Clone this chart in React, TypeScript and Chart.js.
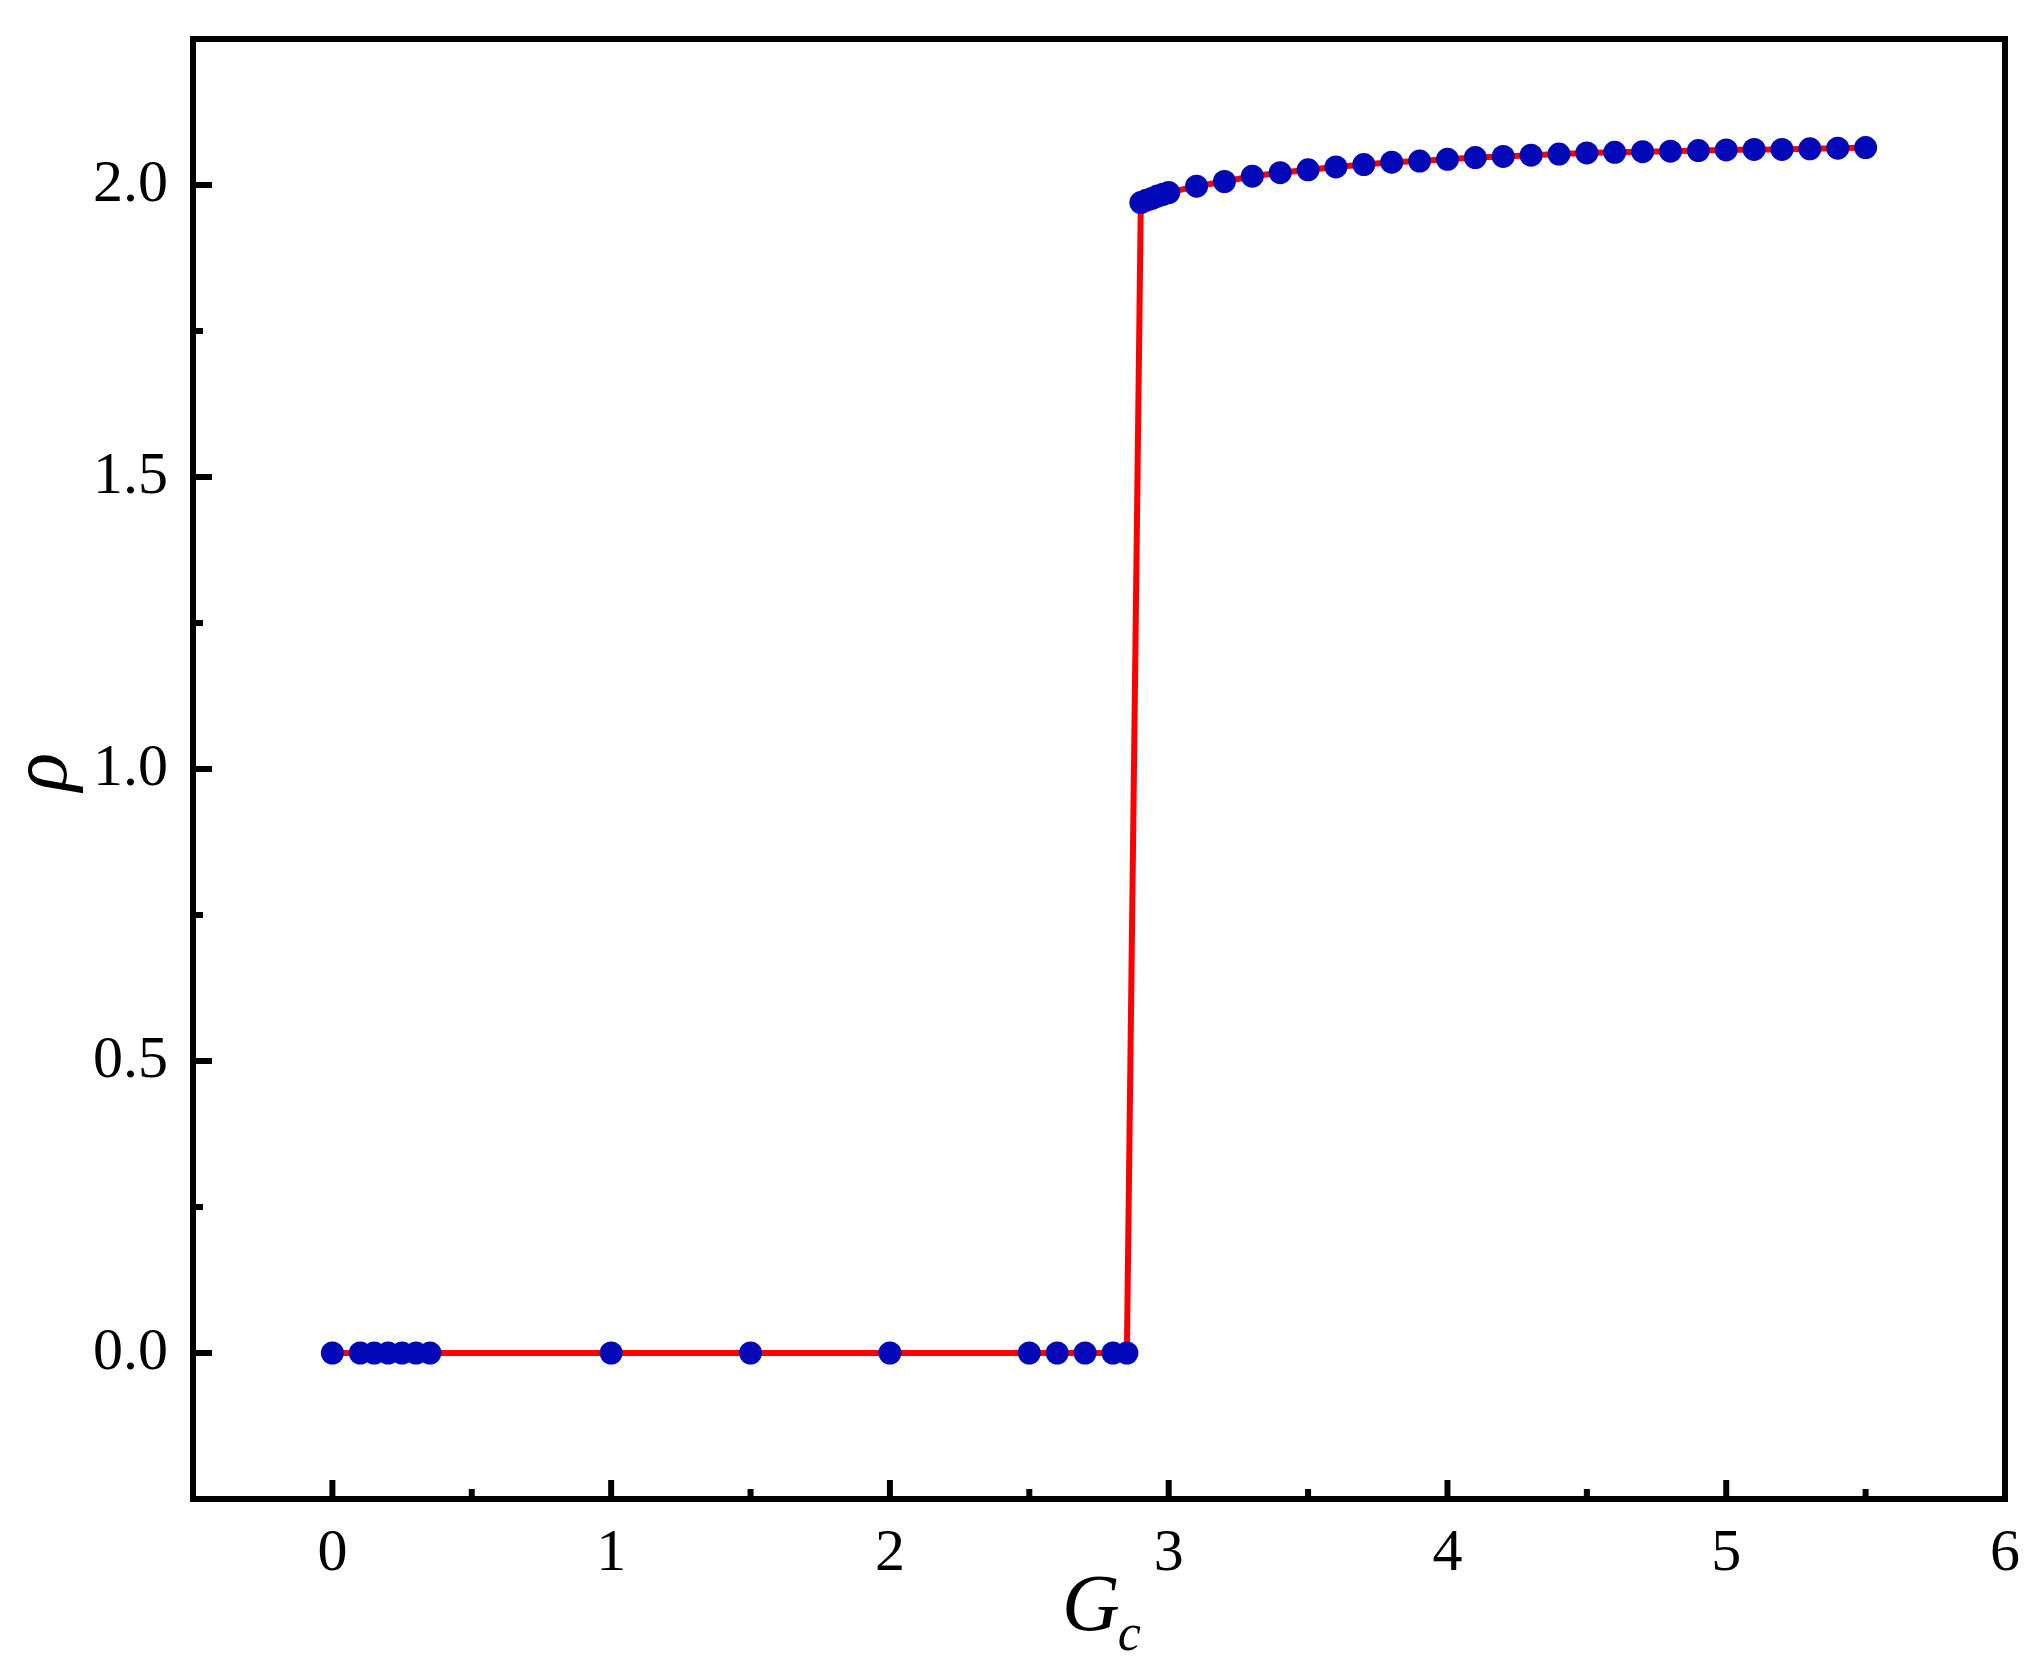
import React, { useEffect, useRef } from "react";
import { Chart, registerables } from "chart.js";

Chart.register(...registerables);

// G_c values (x) and rho values (y)
const gcValues = [
  0, 0.1, 0.15, 0.2, 0.25, 0.3, 0.35, 1, 1.5, 2, 2.5, 2.6, 2.7, 2.8, 2.85,
  2.9, 2.92, 2.94, 2.96, 2.98, 3.0, 3.1, 3.2, 3.3, 3.4, 3.5, 3.6, 3.7, 3.8, 3.9,
  4.0, 4.1, 4.2, 4.3, 4.4, 4.5, 4.6, 4.7, 4.8, 4.9, 5.0, 5.1, 5.2, 5.3, 5.4, 5.5,
];
const rhoValues = [
  0, 0, 0, 0, 0, 0, 0, 0, 0, 0, 0, 0, 0, 0, 0,
  1.970, 1.974, 1.977, 1.981, 1.984, 1.987, 1.998, 2.006, 2.015, 2.021, 2.026, 2.031, 2.035, 2.039, 2.041,
  2.044, 2.047, 2.049, 2.051, 2.053, 2.055, 2.056, 2.057, 2.058, 2.059, 2.060, 2.061, 2.061, 2.062, 2.063, 2.064,
];

const xMin = -0.5;
const xMax = 6;
const yMin = -0.25;
const yMax = 2.25;
const xStep = 0.5;
const yStep = 0.25;

const FONT = '"Liberation Serif", "Times New Roman", serif';

const framePlugin = {
  id: "frameAndTicks",
  afterDraw(chart: any) {
    const { ctx, chartArea } = chart;
    const { left, right, top, bottom } = chartArea;
    const xs = chart.scales.x;
    const ys = chart.scales.y;
    ctx.save();
    ctx.strokeStyle = "#000";
    ctx.lineWidth = 6;
    ctx.lineCap = "butt";
    xs.ticks.forEach((t: any) => {
      const v = t.value;
      if (Math.abs(v - xMin) < 1e-9 || Math.abs(v - xMax) < 1e-9) return;
      const major = Math.abs(v - Math.round(v)) < 1e-9;
      const len = major ? 19 : 10;
      const px = xs.getPixelForValue(v);
      ctx.beginPath();
      ctx.moveTo(px, bottom);
      ctx.lineTo(px, bottom - len);
      ctx.stroke();
    });
    ys.ticks.forEach((t: any) => {
      const v = t.value;
      if (Math.abs(v - yMin) < 1e-9 || Math.abs(v - yMax) < 1e-9) return;
      const major = Math.abs(v * 2 - Math.round(v * 2)) < 1e-9;
      const len = major ? 19 : 10;
      const py = ys.getPixelForValue(v);
      ctx.beginPath();
      ctx.moveTo(left, py);
      ctx.lineTo(left + len, py);
      ctx.stroke();
    });
    ctx.strokeRect(left, top, right - left, bottom - top);

    ctx.fillStyle = "#000";
    ctx.save();
    ctx.translate(66, 772);
    ctx.rotate(-Math.PI / 2);
    ctx.font = `italic 80px ${FONT}`;
    ctx.textAlign = "center";
    ctx.textBaseline = "alphabetic";
    ctx.fillText("ρ", 0, 0);
    ctx.restore();
    ctx.font = `italic 80px ${FONT}`;
    ctx.textAlign = "left";
    ctx.textBaseline = "alphabetic";
    const gx = 1062;
    ctx.fillText("G", gx, 1630);
    const gw = ctx.measureText("G").width;
    ctx.font = `italic 52px ${FONT}`;
    ctx.fillText("c", gx + gw - 2, 1650);
    ctx.restore();
  },
};

export default function App() {
  const ref = useRef<HTMLCanvasElement | null>(null);
  useEffect(() => {
    document.body.style.margin = "0";
    document.body.style.overflow = "hidden";
    const canvas = ref.current;
    if (!canvas) return;
    const points = gcValues.map((x, i) => ({ x, y: rhoValues[i] }));
    const chart = new Chart(canvas, {
      type: "line",
      data: {
        datasets: [
          {
            data: points,
            borderColor: "#FF0000",
            borderWidth: 6,
            pointRadius: 11.5,
            pointBackgroundColor: "#0008B8",
            pointBorderWidth: 0,
            pointBorderColor: "#0008B8",
            tension: 0,
            fill: false,
            clip: false as any,
          },
        ],
      },
      options: {
        responsive: false,
        animation: false,
        events: [],
        layout: { padding: { left: 0, top: 39, right: 31, bottom: 0 } },
        plugins: { legend: { display: false }, tooltip: { enabled: false } },
        scales: {
          x: {
            type: "linear",
            min: xMin,
            max: xMax,
            border: { display: false },
            grid: { display: false, drawTicks: false },
            afterFit: (s: any) => {
              s.height = 169;
              s.paddingLeft = 0;
              s.paddingRight = 0;
            },
            ticks: {
              stepSize: xStep,
              autoSkip: false,
              maxRotation: 0,
              padding: 19,
              color: "#000",
              font: { family: FONT, size: 60 },
              callback: (v: any) =>
                Math.abs(v - Math.round(v)) < 1e-9 ? String(Math.round(v)) : "",
            },
          },
          y: {
            type: "linear",
            min: yMin,
            max: yMax,
            border: { display: false },
            grid: { display: false, drawTicks: false },
            afterFit: (s: any) => {
              s.width = 193;
              s.paddingTop = 0;
              s.paddingBottom = 0;
            },
            ticks: {
              stepSize: yStep,
              autoSkip: false,
              padding: 25,
              color: "#000",
              font: { family: FONT, size: 60 },
              callback: (v: any) =>
                Math.abs(v * 2 - Math.round(v * 2)) < 1e-9 ? Number(v).toFixed(1) : "",
            },
          },
        },
      },
      plugins: [framePlugin],
    });
    return () => chart.destroy();
  }, []);
  return (
    <div style={{ width: 2036, height: 1668, background: "#fff" }}>
      <canvas ref={ref} width={2036} height={1668} style={{ display: "block" }} />
    </div>
  );
}
